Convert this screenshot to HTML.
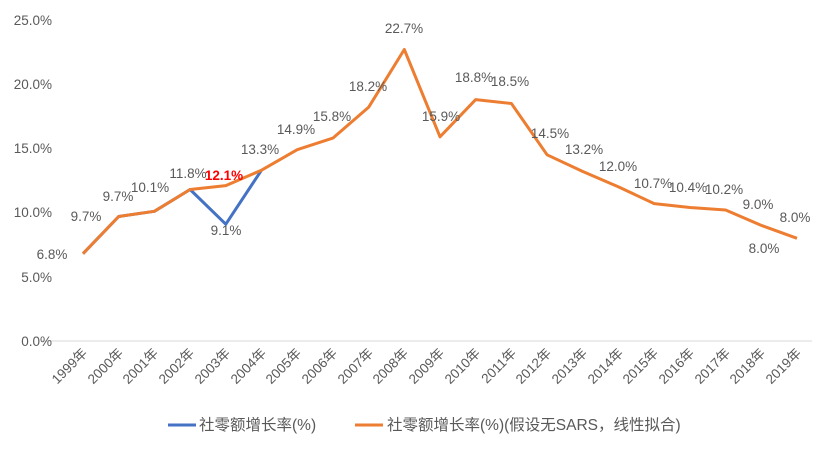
<!DOCTYPE html><html><head><meta charset="utf-8"><style>body{margin:0;background:#fff}text{font-family:"Liberation Sans","Noto Sans CJK SC",sans-serif;fill:#595959;font-size:13.5px}</style></head><body>
<svg width="834" height="450" viewBox="0 0 834 450">
<line x1="42" y1="341" x2="812" y2="341" stroke="#d9d9d9" stroke-width="1"/>
<g text-anchor="end">
<text x="52" y="25">25.0%</text><text x="52" y="89">20.0%</text><text x="52" y="153">15.0%</text><text x="52" y="217">10.0%</text><text x="52" y="282">5.0%</text><text x="52" y="346">0.0%</text>
</g>
<g text-anchor="end" style="font-size:13px">
<text transform="translate(88,354) rotate(-45)">1999年</text><text transform="translate(124,354) rotate(-45)">2000年</text><text transform="translate(159,354) rotate(-45)">2001年</text><text transform="translate(195,354) rotate(-45)">2002年</text><text transform="translate(231,354) rotate(-45)">2003年</text><text transform="translate(267,354) rotate(-45)">2004年</text><text transform="translate(302,354) rotate(-45)">2005年</text><text transform="translate(338,354) rotate(-45)">2006年</text><text transform="translate(374,354) rotate(-45)">2007年</text><text transform="translate(409,354) rotate(-45)">2008年</text><text transform="translate(445,354) rotate(-45)">2009年</text><text transform="translate(481,354) rotate(-45)">2010年</text><text transform="translate(517,354) rotate(-45)">2011年</text><text transform="translate(552,354) rotate(-45)">2012年</text><text transform="translate(588,354) rotate(-45)">2013年</text><text transform="translate(624,354) rotate(-45)">2014年</text><text transform="translate(659,354) rotate(-45)">2015年</text><text transform="translate(695,354) rotate(-45)">2016年</text><text transform="translate(731,354) rotate(-45)">2017年</text><text transform="translate(766,354) rotate(-45)">2018年</text><text transform="translate(802,354) rotate(-45)">2019年</text>
</g>
<polyline fill="none" stroke="#4472c4" stroke-width="3" stroke-linejoin="round" points="83,253.7 118.7,216.5 154.4,211.3 190.1,189.5 225.8,224.2 261.5,170.2"/>
<polyline fill="none" stroke="#ed7d31" stroke-width="3" stroke-linejoin="round" points="83,253.7 118.7,216.5 154.4,211.3 190.1,189.5 225.8,185.6 261.5,170.2 297.2,149.7 332.9,138.1 368.6,107.3 404.3,49.5 440,136.8 475.7,99.6 511.4,103.5 547.1,154.8 582.8,171.5 618.5,186.9 654.2,203.6 689.9,207.5 725.6,210 761.3,225.4 797,238.3"/>
<g text-anchor="middle">
<text x="52" y="259">6.8%</text><text x="86" y="221">9.7%</text><text x="118" y="201">9.7%</text><text x="150" y="192">10.1%</text><text x="188" y="178">11.8%</text><text x="224" y="180" style="fill:#ff0000;font-weight:bold">12.1%</text><text x="226" y="235">9.1%</text><text x="260" y="154">13.3%</text><text x="296" y="134">14.9%</text><text x="332" y="121">15.8%</text><text x="368" y="91">18.2%</text><text x="404" y="33">22.7%</text><text x="441" y="121">15.9%</text><text x="474" y="82">18.8%</text><text x="510" y="86">18.5%</text><text x="550" y="138">14.5%</text><text x="584" y="154">13.2%</text><text x="618" y="171">12.0%</text><text x="653" y="188">10.7%</text><text x="688" y="192">10.4%</text><text x="724" y="194">10.2%</text><text x="758" y="209">9.0%</text><text x="795" y="222">8.0%</text><text x="764" y="253">8.0%</text>
</g>
<line x1="168" y1="425" x2="196" y2="425" stroke="#4472c4" stroke-width="3"/>
<text x="199" y="430" style="font-size:15.5px">社零额增长率(%)</text>
<line x1="355" y1="425" x2="383" y2="425" stroke="#ed7d31" stroke-width="3"/>
<text x="387" y="430" style="font-size:15.5px">社零额增长率(%)(假设无SARS，线性拟合)</text>
</svg></body></html>
